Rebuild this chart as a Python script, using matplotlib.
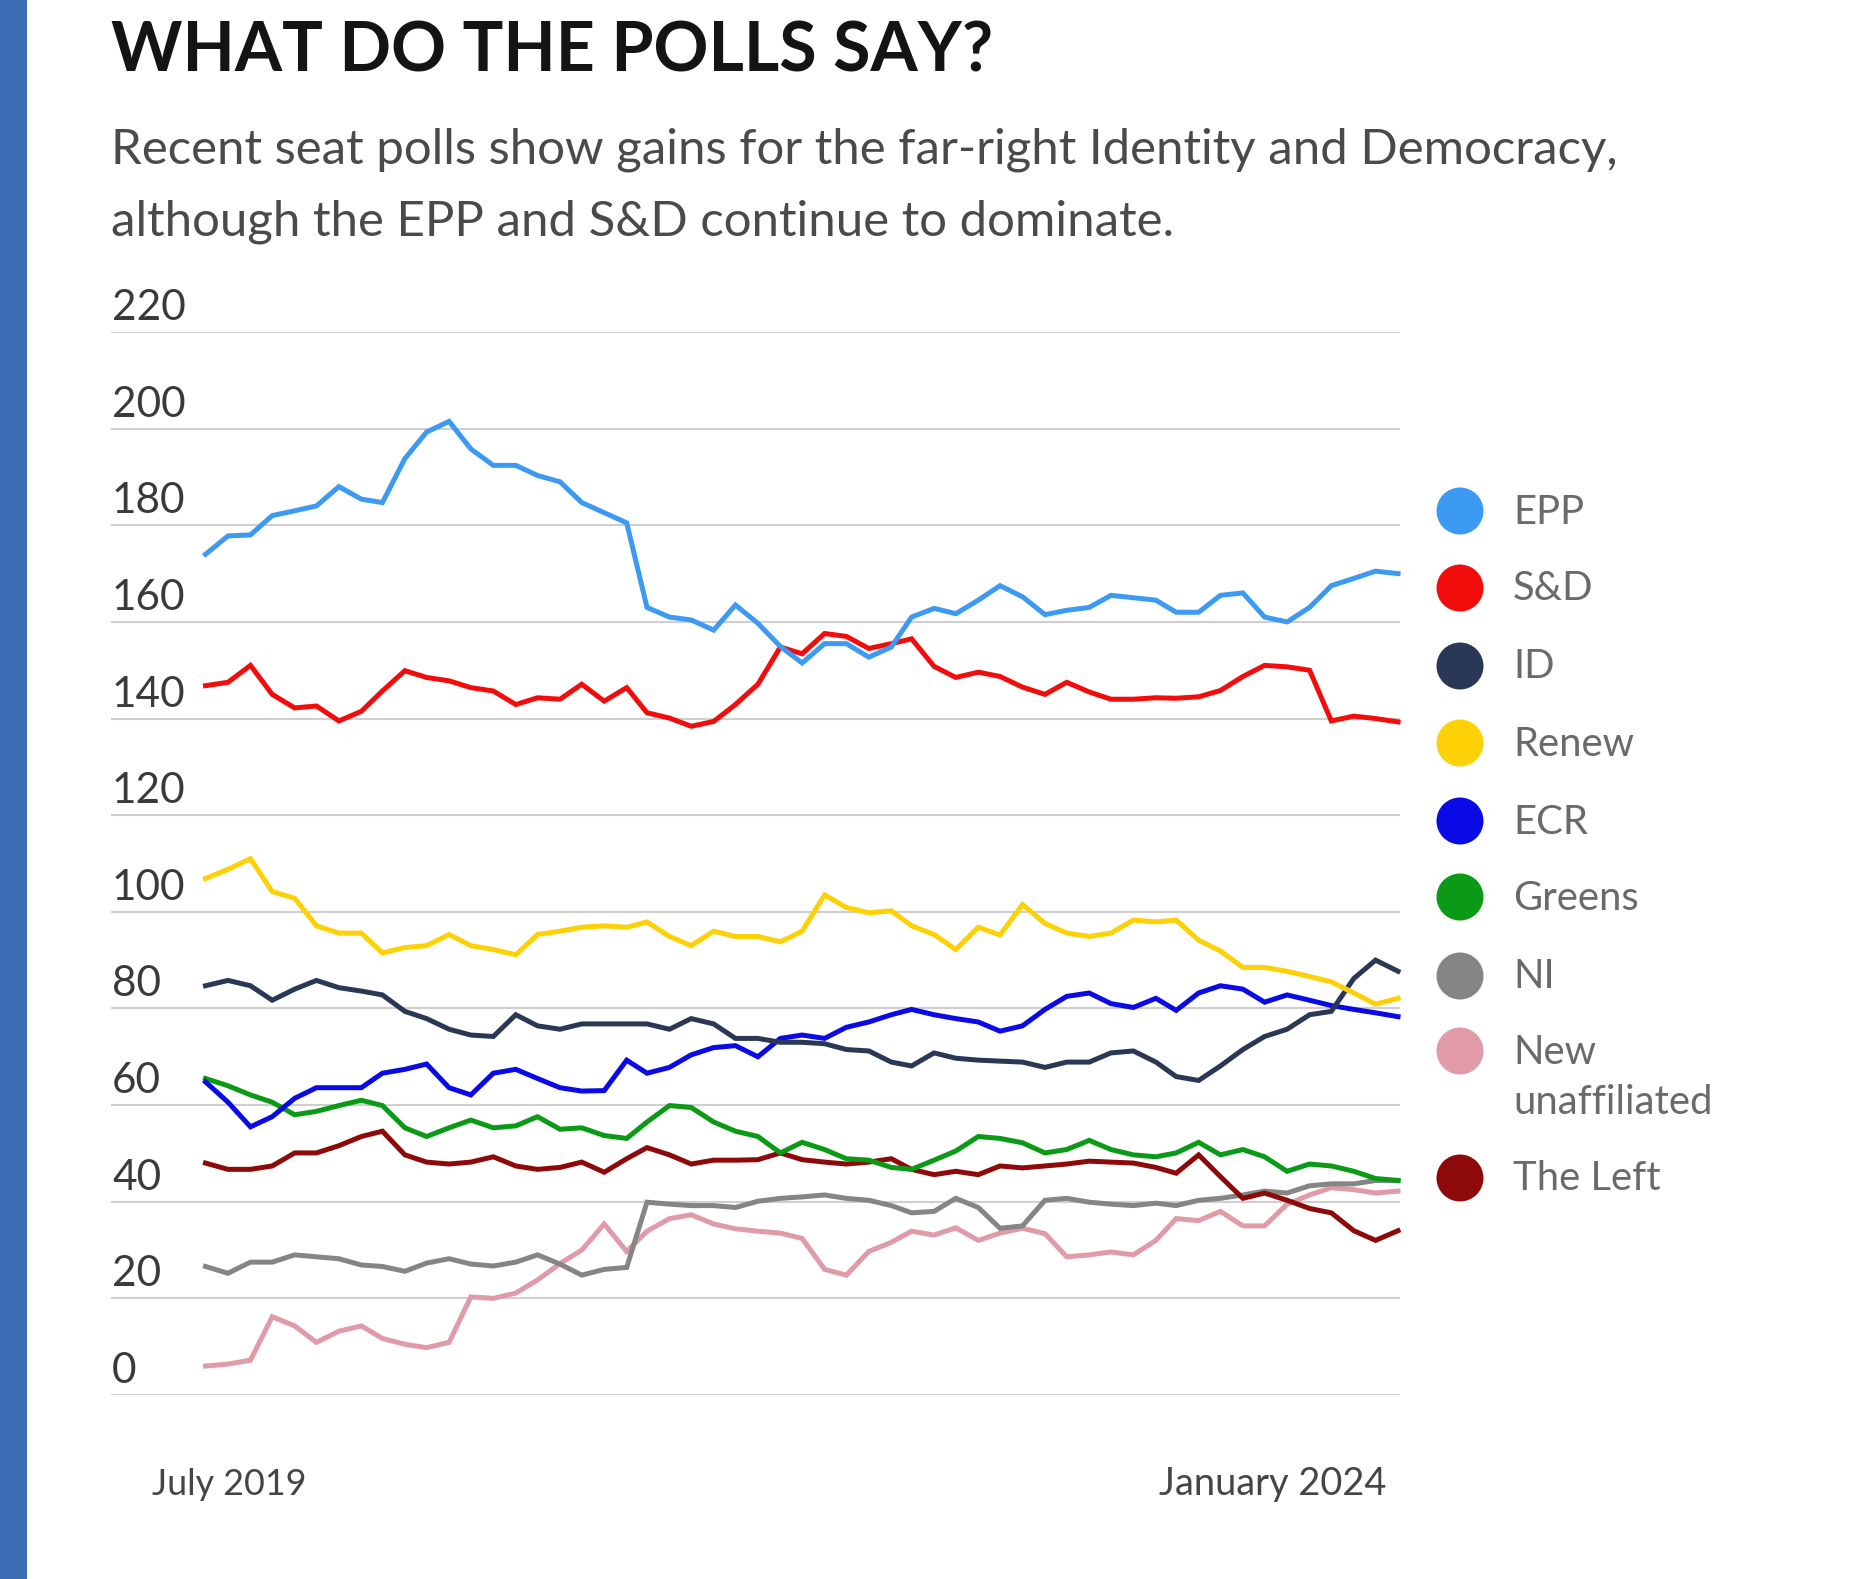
import matplotlib
matplotlib.use("Agg")
import matplotlib.pyplot as plt
import matplotlib.dates as mdates
import matplotlib.transforms as mtransforms
from matplotlib.patches import Rectangle
import pandas as pd
import numpy as np

# ---------------- data (seat projections, monthly, Jul 2019 - Jan 2024) ----------------
dates = pd.date_range("2019-07-01", periods=55, freq="MS")

epp = [174, 177.8, 178, 182, 183, 184, 188, 185.4, 184.7, 193.8, 199.3, 201.5, 195.8, 192.4,
       192.4, 190.3, 189, 184.7, 182.6, 180.5, 163, 161, 160.4, 158.3, 163.5, 159.7, 154.9,
       151.5, 155.5, 155.5, 152.7, 154.8, 161, 162.8, 161.7, 164.5, 167.5, 165.2, 161.5, 162.4,
       163, 165.5, 165, 164.5, 162, 162, 165.5, 166, 161, 160, 163, 167.5, 169, 170.5, 170]
snd = [146.8, 147.5, 151, 145, 142.2, 142.6, 139.5, 141.5, 145.7, 149.9, 148.5, 147.8, 146.4,
       145.7, 142.9, 144.3, 144, 147.1, 143.6, 146.4, 141.2, 140.1, 138.4, 139.4, 142.9, 147.1,
       154.8, 153.4, 157.6, 157, 154.5, 155.5, 156.5, 150.8, 148.5, 149.6, 148.7, 146.5, 145,
       147.5, 145.5, 144, 144, 144.3, 144.2, 144.5, 145.8, 148.7, 151, 150.7, 150, 139.5, 140.5,
       140, 139.3]
idp = [84.7, 85.8, 84.7, 81.7, 84, 85.8, 84.3, 83.6, 82.8, 79.4, 77.9, 75.7, 74.5, 74.2, 78.7,
       76.4, 75.7, 76.8, 76.8, 76.8, 76.8, 75.7, 77.9, 76.8, 73.8, 73.8, 73, 73, 72.7, 71.5,
       71.2, 68.9, 68.1, 70.8, 69.7, 69.3, 69.1, 68.9, 67.8, 68.9, 68.9, 70.8, 71.2, 68.9, 65.9,
       65.1, 68.1, 71.5, 74.2, 75.7, 78.7, 79.4, 86.2, 90, 87.7]
renew = [106.9, 108.8, 111, 104.2, 102.8, 97.1, 95.6, 95.6, 91.5, 92.6, 93, 95.3, 93, 92.2,
         91.1, 95.3, 96, 96.8, 97.1, 96.8, 97.9, 94.9, 93, 96, 94.9, 94.9, 93.8, 96, 103.5,
         100.9, 99.8, 100.2, 97.1, 95.3, 92.2, 96.8, 95.2, 101.5, 97.6, 95.6, 94.9, 95.6, 98.3,
         97.9, 98.3, 94.1, 91.9, 88.5, 88.5, 87.7, 86.6, 85.5, 83.2, 80.9, 82.1]
ecr = [64.8, 60.6, 55.5, 57.6, 61.4, 63.6, 63.6, 63.6, 66.6, 67.4, 68.5, 63.6, 62.1, 66.6, 67.4,
       65.5, 63.6, 62.9, 63, 69.3, 66.6, 67.8, 70.4, 71.9, 72.3, 70, 73.8, 74.5, 73.8, 76.1,
       77.2, 78.7, 79.8, 78.7, 77.9, 77.2, 75.3, 76.4, 79.8, 82.5, 83.2, 81, 80.2, 82.1, 79.6,
       83.2, 84.7, 84, 81.3, 82.8, 81.7, 80.6, 79.8, 79.1, 78.3]
greens = [65.5, 64, 62.1, 60.6, 58, 58.7, 59.9, 61, 59.9, 55.3, 53.5, 55.3, 56.9, 55.3, 55.7,
          57.6, 55, 55.3, 53.7, 53.1, 56.5, 59.9, 59.5, 56.5, 54.6, 53.5, 50.1, 52.3, 50.8,
          48.9, 48.6, 47.1, 46.7, 48.6, 50.5, 53.5, 53.1, 52.2, 50.1, 50.8, 52.7, 50.8, 49.7,
          49.3, 50.1, 52.3, 49.7, 50.8, 49.3, 46.3, 47.8, 47.4, 46.3, 44.8, 44.4]
ni = [26.6, 25.2, 27.5, 27.5, 29, 28.6, 28.2, 26.9, 26.6, 25.6, 27.3, 28.2, 27.1, 26.7, 27.5,
      29, 27.1, 24.8, 26, 26.4, 39.9, 39.5, 39.2, 39.2, 38.8, 40.1, 40.7, 41, 41.4, 40.7, 40.3,
      39.2, 37.7, 38, 40.7, 38.8, 34.5, 35, 40.3, 40.7, 39.9, 39.5, 39.2, 39.7, 39.2, 40.3,
      40.7, 41.4, 42.2, 41.8, 43.3, 43.7, 43.7, 44.4, 44.4]
new_unaff = [6, 6.4, 7.2, 16.2, 14.3, 10.9, 13.2, 14.3, 11.7, 10.5, 9.8, 10.9, 20.3, 20, 21.1,
             23.8, 27.2, 30, 35.4, 29.7, 33.9, 36.5, 37.3, 35.4, 34.4, 33.9, 33.5, 32.4, 26,
             24.8, 29.7, 31.6, 33.9, 33.1, 34.6, 32, 33.5, 34.5, 33.4, 28.6, 29, 29.6, 29, 32,
             36.5, 36.1, 38, 35, 35, 39.5, 41.4, 42.9, 42.5, 41.8, 42.2]
left = [48, 46.7, 46.7, 47.4, 50.1, 50.1, 51.6, 53.5, 54.6, 49.7, 48.2, 47.8, 48.2, 49.3, 47.4,
        46.7, 47.1, 48.2, 46.1, 48.9, 51.2, 49.7, 47.8, 48.6, 48.6, 48.7, 50.1, 48.7, 48.2,
        47.8, 48.2, 48.9, 46.7, 45.6, 46.3, 45.6, 47.4, 47, 47.4, 47.8, 48.4, 48.2, 48, 47.1,
        45.9, 49.7, 45.2, 40.7, 41.8, 40.3, 38.6, 37.7, 34, 32, 34]

series_names = ["EPP", "S&D", "ID", "Renew", "ECR", "Greens", "NI", "New\nunaffiliated", "The Left"]
series_values = [epp, snd, idp, renew, ecr, greens, ni, new_unaff, left]
series_colors = ["#3d9af2", "#f20d0d", "#2a3856", "#fdd106", "#0a0ae6", "#0b9a16",
                 "#858585", "#e09aa8", "#8e0a0a"]
# draw order (back to front)
draw_order = [7, 6, 8, 5, 4, 2, 3, 1, 0]

y_ticks = [0, 20, 40, 60, 80, 100, 120, 140, 160, 180, 200, 220]
x_labels = ["July 2019", "January 2024"]

title = "WHAT DO THE POLLS SAY?"
subtitle = ["Recent seat polls show gains for the far-right Identity and Democracy,",
            "although the EPP and S&D continue to dominate."]

# ---------------- figure ----------------
W, H, DPI = 1875, 1579, 100
fig = plt.figure(figsize=(W / DPI, H / DPI), dpi=DPI, facecolor="white")
FONT = "Lato"

# left blue strip
fig.patches.append(Rectangle((0, 0), 27 / W, 1, transform=fig.transFigure,
                             facecolor="#3b6db5", edgecolor="none", zorder=0))

# main axes: gridlines from x=111 to 1400 px, y 220 at 332 px, 0 at 1395 px
ax_l, ax_r, ax_t, ax_b = 111, 1400, 332, 1395
ax = fig.add_axes([ax_l / W, 1 - ax_b / H, (ax_r - ax_l) / W, (ax_b - ax_t) / H])
ax.set_facecolor("none")
xn = mdates.date2num(dates)
step = (xn[-1] - xn[0]) / (len(xn) - 1)
ax.set_xlim(xn[0] - 4.28 * step, xn[-1] + 0.09 * step)
ax.set_ylim(0, 220)
for s in ax.spines.values():
    s.set_visible(False)
ax.set_xticks([])
ax.set_yticks([])
for v in y_ticks:
    ax.axhline(v, color="#cfcfcf", lw=1.5, zorder=1)

for i in draw_order:
    ax.plot(xn, series_values[i], color=series_colors[i], lw=3.6, zorder=3,
            solid_joinstyle="miter", clip_on=False)

# overlay axes in pixel coordinates for text / legend
ov = fig.add_axes([0, 0, 1, 1], zorder=5)
ov.set_xlim(0, W)
ov.set_ylim(H, 0)
ov.axis("off")
ov.patch.set_alpha(0)

renderer = fig.canvas.get_renderer()


def fit_width(t, target):
    bb = t.get_window_extent(renderer)
    t.set_fontsize(t.get_fontsize() * target / bb.width)
    return t.get_fontsize()


t_title = ov.text(111, 72, title, fontsize=40, fontweight="bold", family=FONT,
                  color="#141414", ha="left", va="baseline")
fit_width(t_title, 881)

t_sub1 = ov.text(111, 164, subtitle[0], fontsize=30, family=FONT,
                 color="#4a4a4a", ha="left", va="baseline")
fs_sub = fit_width(t_sub1, 1504)
ov.text(111, 236, subtitle[1], fontsize=fs_sub, family=FONT,
        color="#4a4a4a", ha="left", va="baseline")

# y tick labels above gridlines
tick_tr = mtransforms.offset_copy(ax.get_yaxis_transform(), fig=fig, x=1, y=12, units="dots")
probe = ov.text(0, 0, "220", fontsize=26, family=FONT)
fs_tick = fit_width(probe, 74)
probe.remove()
for v in y_ticks:
    ax.text(0, v, str(v), transform=tick_tr, fontsize=fs_tick, family=FONT,
            color="#3a3a3a", ha="left", va="baseline", clip_on=False)

# x labels
t_xr = ov.text(1386, 1495, x_labels[1], fontsize=24, family=FONT,
               color="#454545", ha="right", va="baseline")
fit_width(t_xr, 228)
t_xl = ov.text(152, 1495, x_labels[0], fontsize=24, family=FONT,
               color="#454545", ha="left", va="baseline")
fit_width(t_xl, 155)

# legend
leg_y = [511, 588, 666, 743, 821, 897, 976, 1051, 1178]
probe = ov.text(0, 0, "Renew", fontsize=25, family=FONT)
fs_leg = fit_width(probe, 121)
probe.remove()
for name, col, yc in zip(series_names, series_colors, leg_y):
    ov.scatter([1460], [yc], s=1145, color=col, edgecolors="none", zorder=6)
    for k, line in enumerate(name.split("\n")):
        ov.text(1513, yc + 12.5 + k * 51, line, fontsize=fs_leg, family=FONT,
                color="#6a6a6a", ha="left", va="baseline")

fig.savefig("out.png", dpi=DPI, facecolor="white")
